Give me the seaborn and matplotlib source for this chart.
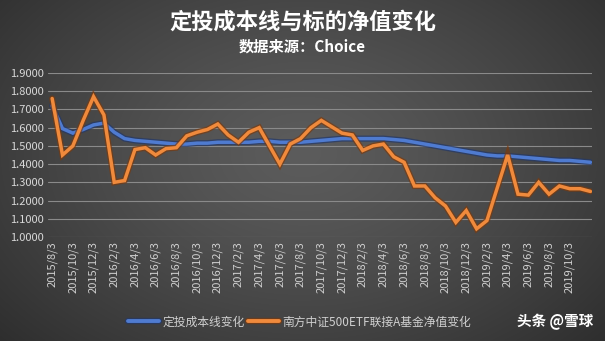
import numpy as np
import pandas as pd
import matplotlib
matplotlib.use("Agg")
import matplotlib.pyplot as plt
import matplotlib.patheffects as pe
import seaborn as sns

# ---------------- data ----------------
dates = [
    "2015/8/3", "2015/9/3", "2015/10/3", "2015/11/3", "2015/12/3",
    "2016/1/3", "2016/2/3", "2016/3/3", "2016/4/3", "2016/5/3", "2016/6/3",
    "2016/7/3", "2016/8/3", "2016/9/3", "2016/10/3", "2016/11/3", "2016/12/3",
    "2017/1/3", "2017/2/3", "2017/3/3", "2017/4/3", "2017/5/3", "2017/6/3",
    "2017/7/3", "2017/8/3", "2017/9/3", "2017/10/3", "2017/11/3", "2017/12/3",
    "2018/1/3", "2018/2/3", "2018/3/3", "2018/4/3", "2018/5/3", "2018/6/3",
    "2018/7/3", "2018/8/3", "2018/9/3", "2018/10/3", "2018/11/3", "2018/12/3",
    "2019/1/3", "2019/2/3", "2019/3/3", "2019/4/3", "2019/5/3", "2019/6/3",
    "2019/7/3", "2019/8/3", "2019/9/3", "2019/10/3", "2019/11/3", "2019/12/3",
]

cost_line = [
    1.72, 1.595, 1.57, 1.59, 1.615, 1.625, 1.575, 1.54, 1.53, 1.525, 1.52,
    1.515, 1.51, 1.51, 1.515, 1.515, 1.52, 1.52, 1.52, 1.52, 1.525, 1.525,
    1.52, 1.52, 1.52, 1.525, 1.53, 1.535, 1.54, 1.54, 1.54, 1.54, 1.54,
    1.535, 1.53, 1.52, 1.51, 1.50, 1.49, 1.48, 1.47, 1.46, 1.45, 1.445,
    1.445, 1.44, 1.435, 1.43, 1.425, 1.42, 1.42, 1.415, 1.41,
]

fund_nav = [
    1.76, 1.45, 1.50, 1.64, 1.77, 1.67, 1.30, 1.31, 1.48, 1.49, 1.45,
    1.485, 1.49, 1.555, 1.575, 1.59, 1.62, 1.56, 1.52, 1.575, 1.60, 1.50,
    1.40, 1.51, 1.54, 1.60, 1.64, 1.605, 1.57, 1.56, 1.475, 1.50, 1.51,
    1.44, 1.41, 1.28, 1.28, 1.215, 1.17, 1.08, 1.145, 1.045, 1.09, 1.27,
    1.45, 1.235, 1.23, 1.30, 1.235, 1.28, 1.265, 1.265, 1.25,
]

series_names = ["定投成本线变化", "南方中证500ETF联接A基金净值变化"]
title_text = "定投成本线与标的净值变化"
subtitle_text = "数据来源：Choice"
watermark_text = "头条 @雪球"
y_ticks = [1.0, 1.1, 1.2, 1.3, 1.4, 1.5, 1.6, 1.7, 1.8, 1.9]

# ---------------- frame ----------------
n = len(dates)
df = pd.DataFrame({
    "idx": list(range(n)) * 2,
    "value": cost_line + fund_nav,
    "series": [series_names[0]] * n + [series_names[1]] * n,
})

sns.set_theme(style="white")
plt.rcParams["font.family"] = ["Noto Sans CJK SC", "DejaVu Sans"]

W, H = 605, 341
fig = plt.figure(figsize=(W / 100, H / 100), dpi=100)

# radial dark background
bg = fig.add_axes([0, 0, 1, 1], zorder=0)
yy, xx = np.mgrid[0:H, 0:W]
r = np.sqrt(((xx - W * 0.5) / (W * 0.62)) ** 2 + ((yy - H * 0.45) / (H * 0.75)) ** 2)
shade = np.clip(0.36 - 0.16 * r ** 1.3, 0.15, 0.4)
bg.imshow(np.dstack([shade, shade, shade]), aspect="auto", extent=[0, 1, 0, 1])
bg.set_axis_off()

ax = fig.add_axes([48 / W, 1 - 237 / H, (592 - 48) / W, (237 - 73) / H], zorder=1)
ax.set_facecolor("none")

palette = {series_names[0]: "#4F7BD0", series_names[1]: "#F08A3C"}
sns.lineplot(data=df, x="idx", y="value", hue="series", palette=palette,
             linewidth=2.5, ax=ax, legend=True)

shadows = ["#22386a", "#7a3a0e"]
for line, sh in zip(ax.get_lines()[:2], shadows):
    line.set_path_effects([pe.Stroke(linewidth=4.4, foreground=sh, alpha=0.7), pe.Normal()])
    line.set_solid_joinstyle("miter")

ax.set_ylim(1.0, 1.9)
ax.set_xlim(-0.4, n - 0.85)
ax.set_yticks(y_ticks)
ax.set_yticklabels([f"{v:.4f}" for v in y_ticks], color="#d8d8d8", fontsize=8)
tick_pos = list(range(0, 51, 2))
ax.set_xticks(tick_pos)
ax.set_xticklabels([dates[i] for i in tick_pos], rotation=90, color="#d0d0d0", fontsize=8)
ax.tick_params(axis="both", length=0, pad=3)
ax.grid(axis="y", color="#8a8a8a", linewidth=0.8)
ax.grid(axis="x", visible=False)
for s in ax.spines.values():
    s.set_visible(False)
ax.set_xlabel("")
ax.set_ylabel("")

# legend
handles, labels = ax.get_legend_handles_labels()
for h, sh in zip(handles, shadows):
    h.set_linewidth(2.8)
    h.set_path_effects([pe.Stroke(linewidth=4.6, foreground=sh, alpha=0.7), pe.Normal()])
leg = fig.legend(handles, labels, loc="center", bbox_to_anchor=(0.495, 1 - 322 / H),
                 ncol=2, frameon=False, fontsize=8.5, handlelength=2.6,
                 columnspacing=0.3, handletextpad=0.3, labelcolor="#d0d0d0")
ax.get_legend().remove()

fig.text(0.5, 1 - 22 / H, title_text, ha="center", va="center", color="white",
         fontsize=16, fontweight="bold")
fig.text(0.5, 1 - 47 / H, subtitle_text, ha="center", va="center", color="white",
         fontsize=11, fontweight="bold")
fig.text(555 / W, 1 - 322 / H, watermark_text, ha="center", va="center", color="white",
         fontsize=10.5, fontweight="bold")

fig.savefig("out.png", dpi=100)
